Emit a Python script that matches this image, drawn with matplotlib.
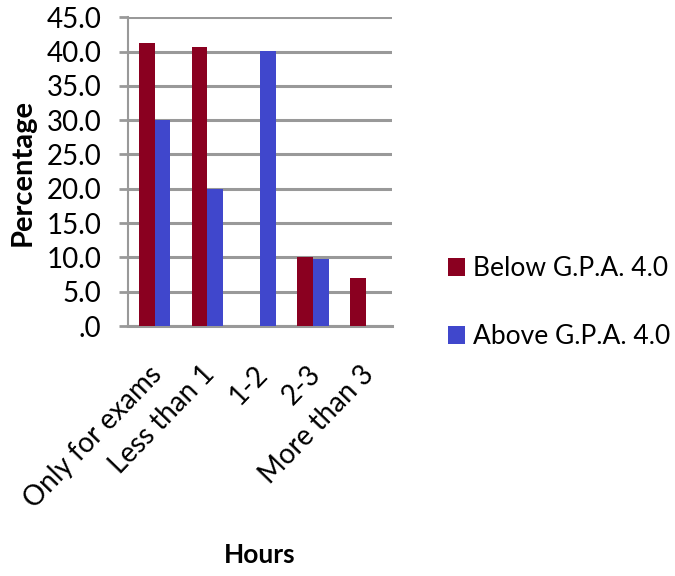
import matplotlib
matplotlib.use('Agg')
import matplotlib.pyplot as plt
import matplotlib.transforms as mtransforms
import numpy as np

plt.rcParams['font.family'] = ['Lato', 'DejaVu Sans']

categories = ['Only for exams', 'Less than 1', '1-2', '2-3', 'More than 3']
below = [41.2, 40.7, 0.0, 10.0, 7.0]
above = [30.0, 20.0, 40.1, 9.8, 0.0]
series = ['Below G.P.A. 4.0', 'Above G.P.A. 4.0']
yticks = np.arange(0, 50, 5)

red = '#8a0020'
blue = '#4047cc'
grid = '#999999'

fig = plt.figure(figsize=(6.75, 5.76), dpi=100)
ax = fig.add_axes([0.19, 0.434, 0.391, 0.536])

x = np.arange(len(categories))
w = 0.295
ax.bar(x - w/2, below, w, color=red, label=series[0], zorder=3)
ax.bar(x + w/2, above, w, color=blue, label=series[1], zorder=3)

ax.set_xlim(-0.5, len(categories) - 0.5)
ax.set_ylim(0, 45)
ax.set_yticks(yticks)
ax.set_yticklabels(['.0'] + ['%.1f' % v for v in yticks[1:]])
ax.yaxis.grid(True, color=grid, linewidth=2.2, zorder=0)
for s in ['top', 'right']:
    ax.spines[s].set_visible(False)
ax.spines['left'].set_color(grid)
ax.spines['left'].set_linewidth(1.5)
ax.spines['bottom'].set_color(grid)
ax.spines['bottom'].set_linewidth(2.2)
ax.tick_params(axis='y', length=6.5, width=2, color=grid, labelsize=20, pad=13)
ax.tick_params(axis='x', length=0, labelsize=20, pad=0)
ax.set_xticks(x)
ax.set_xticklabels(categories, rotation=46, ha='right', va='top',
                   rotation_mode='anchor')
shift = mtransforms.ScaledTranslation(-0.06, -0.35, fig.dpi_scale_trans)
for lab in ax.get_xticklabels():
    lab.set_transform(lab.get_transform() + shift)

fig.text(23/675, 1 - 172/576, 'Percentage', fontsize=21, fontweight='bold',
         rotation=90, ha='center', va='center')
fig.text(0.385, 0.036, 'Hours', fontsize=19, fontweight='bold',
         ha='center', va='center')

fig.legend(loc='upper left', bbox_to_anchor=(0.664, 0.555), frameon=False,
           fontsize=19, handlelength=0.64, handleheight=0.64, handletextpad=0.3,
           labelspacing=1.63, borderpad=0, borderaxespad=0)

fig.savefig('out.png', dpi=100)
